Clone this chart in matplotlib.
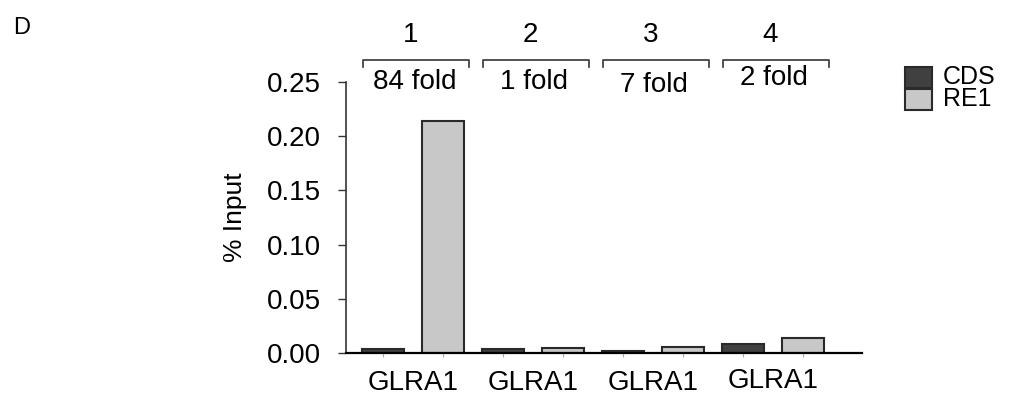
import matplotlib
matplotlib.use("Agg")
import matplotlib.pyplot as plt
import numpy as np
from matplotlib.transforms import blended_transform_factory
from matplotlib.patches import Rectangle

plt.rcParams['font.family'] = ['Liberation Sans', 'DejaVu Sans']

groups = ["GLRA1", "GLRA1", "GLRA1", "GLRA1"]
group_ids = ["1", "2", "3", "4"]
fold_labels = ["84 fold", "1 fold", "7 fold", "2 fold"]
series = ["CDS", "RE1"]
cds_values = [0.0034, 0.0037, 0.0020, 0.0083]
re1_values = [0.2140, 0.0043, 0.0055, 0.0135]
yticks = [0.00, 0.05, 0.10, 0.15, 0.20, 0.25]

cds_color = "#404040"
re1_color = "#c8c8c8"
edge = "#2a2a2a"

fig = plt.figure(figsize=(10.25, 4), dpi=100)
ax = fig.add_axes([346/1025, 47/400, (862-346)/1025, (353-82)/400])

n = len(groups)
cds_x = np.arange(n) * 2
re1_x = cds_x + 1
w = 0.7
ax.bar(cds_x, cds_values, width=w, color=cds_color, edgecolor=edge, linewidth=1.5)
ax.bar(re1_x, re1_values, width=w, color=re1_color, edgecolor=edge, linewidth=1.5)

ax.set_xlim(-0.62, 7.98)
ax.set_ylim(0, 0.25)
ax.set_yticks(yticks)
ax.set_yticklabels([f"{v:.2f}" for v in yticks], fontsize=20)
ax.set_ylabel("% Input", fontsize=19, labelpad=14)
for s in ["top", "right"]:
    ax.spines[s].set_visible(False)
ax.spines["left"].set_linewidth(1.2)
ax.spines["left"].set_color("#333333")
ax.spines["bottom"].set_linewidth(1.6)
ax.tick_params(axis="y", length=6, width=1, color="#333333", pad=12)
ax.set_xticks(np.concatenate([cds_x, re1_x]))
ax.set_xticklabels([])
ax.tick_params(axis="x", length=3, width=0.8, color="#aaaaaa")

trans = blended_transform_factory(ax.transData, fig.transFigure)
centers = cds_x + 0.5
glra_y = [383, 383, 383, 381]
fold_y = [82, 82, 85, 78]
for i, c in enumerate(centers):
    ax.text(c, (400-glra_y[i])/400, groups[i], transform=trans,
            ha="center", va="center", fontsize=20)
    cb = c + 0.05
    x0, x1 = cb - 0.88, cb + 0.88
    yb, yt = (400-67)/400, (400-60)/400
    ax.plot([x0, x0, x1, x1], [yb, yt, yt, yb], transform=trans, color="#333333",
            lw=1.2, clip_on=False)
    ax.text(c - 0.05, (400-35)/400, group_ids[i], transform=trans, ha="center",
            va="center", fontsize=20)
    ax.text(c + 0.02, (400-fold_y[i])/400, fold_labels[i], transform=trans, ha="center",
            va="center", fontsize=20)

# legend
for j, (lab, col) in enumerate(zip(series, [cds_color, re1_color])):
    ytop = 67 + j * 22
    r = Rectangle((905/1025, (400-ytop-21)/400), 27/1025, 21/400,
                  transform=fig.transFigure, facecolor=col, edgecolor=edge, lw=1.5)
    fig.patches.append(r)
    fig.text(943/1025, (400-ytop-10.5)/400, lab, ha="left", va="center", fontsize=18)

fig.text(22/1025, (400-28)/400, "D", ha="center", va="center", fontsize=17)

fig.savefig("out.png", dpi=100)
